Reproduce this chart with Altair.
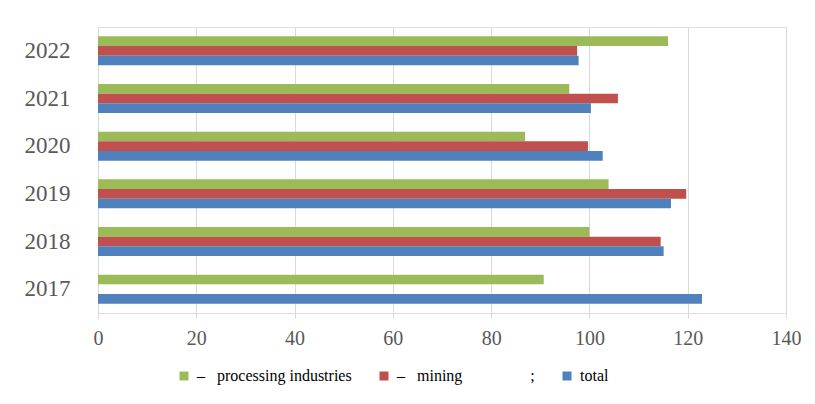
import altair as alt
import pandas as pd

years = ["2017", "2018", "2019", "2020", "2021", "2022"]
series = ["processing industries", "mining", "total"]
processing = [90.7, 100.0, 103.9, 86.9, 95.9, 116.0]
mining = [None, 114.5, 119.7, 99.7, 105.8, 97.5]
total = [122.9, 115.1, 116.6, 102.7, 100.3, 97.8]
colors = ["#9BBB59", "#C0504D", "#4F81BD"]
x_ticks = [0, 20, 40, 60, 80, 100, 120, 140]

rows = []
for i, yr in enumerate(years):
    for s, vals in zip(series, [processing, mining, total]):
        rows.append({"year": yr, "series": s, "value": vals[i]})
df = pd.DataFrame(rows)

NB = "\u00a0"
label_expr = (
    "datum.label == 'processing industries' ? '–" + NB * 3 + "processing industries' : "
    "datum.label == 'mining' ? '–" + NB * 3 + "mining" + NB * 17 + ";' : "
    "'" + NB * 9 + "total'"
)

chart = alt.Chart(df).mark_bar().encode(
    x=alt.X(
        "value:Q",
        scale=alt.Scale(domain=[0, 140], nice=False),
        axis=alt.Axis(
            values=x_ticks, title=None, domain=False, ticks=True, tickSize=5,
            tickColor="#d9d9d9", gridColor="#d9d9d9",
            labelFontSize=20, labelColor="#595959", labelPadding=10,
            labelFlush=False,
        ),
    ),
    y=alt.Y(
        "year:N",
        sort="descending",
        scale=alt.Scale(paddingInner=0.39, paddingOuter=0.195),
        axis=alt.Axis(
            title=None, ticks=False, domain=True, domainColor="#d9d9d9",
            labelFontSize=23, labelColor="#595959",
            labelPadding=28,
        ),
    ),
    yOffset=alt.YOffset("series:N", sort=series, scale=alt.Scale(paddingInner=0, paddingOuter=0)),
    color=alt.Color(
        "series:N",
        sort=series,
        scale=alt.Scale(domain=series, range=colors),
        legend=alt.Legend(
            orient="none", legendX=78, legendY=341, direction="horizontal",
            columns=3, title=None, symbolType="square", symbolSize=81,
            symbolStrokeWidth=0, labelFontSize=16, labelFont="Liberation Serif",
            labelColor="#000000", columnPadding=24, padding=0, labelOffset=5,
            labelExpr=label_expr, labelLimit=400,
        ),
    ),
).properties(
    width=688,
    height=286,
    autosize=alt.AutoSizeParams(type="none"),
    padding={"left": 90, "top": 19, "right": 20, "bottom": 80},
).configure_view(stroke=None).configure(
    background="white", font="Liberation Serif"
)

chart.save("out.html", embed_options={"renderer": "svg", "actions": False})
